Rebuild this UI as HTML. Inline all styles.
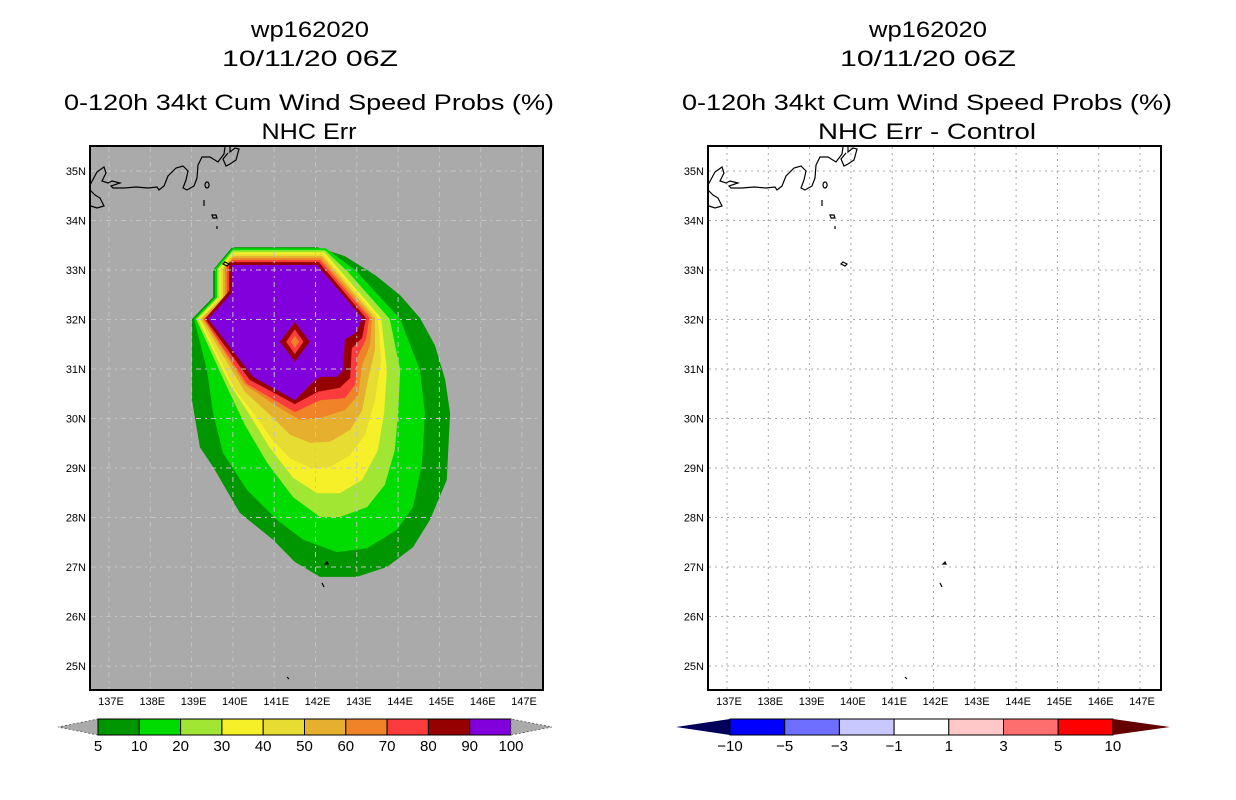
<!DOCTYPE html>
<html><head><meta charset="utf-8"><style>
html,body{margin:0;padding:0;background:#fff;}
svg{display:block;font-family:"Liberation Sans",sans-serif;}
</style></head><body>
<svg id="root" width="1236" height="800" viewBox="0 0 1236 800" xmlns="http://www.w3.org/2000/svg">
<g id="titles" font-size="22" fill="#000" text-anchor="middle">
 <text x="310" y="37" textLength="118" lengthAdjust="spacingAndGlyphs">wp162020</text>
 <text x="310" y="66" textLength="176" lengthAdjust="spacingAndGlyphs">10/11/20 06Z</text>
 <text x="309" y="110" textLength="490" lengthAdjust="spacingAndGlyphs">0-120h 34kt Cum Wind Speed Probs (%)</text>
 <text x="309" y="139" textLength="95" lengthAdjust="spacingAndGlyphs">NHC Err</text>
 <text x="928" y="37" textLength="118" lengthAdjust="spacingAndGlyphs">wp162020</text>
 <text x="928" y="66" textLength="176" lengthAdjust="spacingAndGlyphs">10/11/20 06Z</text>
 <text x="927" y="110" textLength="490" lengthAdjust="spacingAndGlyphs">0-120h 34kt Cum Wind Speed Probs (%)</text>
 <text x="927" y="139" textLength="218" lengthAdjust="spacingAndGlyphs">NHC Err - Control</text>
</g>
<rect x="90" y="146" width="453" height="544" fill="#aaaaaa"/>
<g id="contours"></g>
<g id="leftgrid"></g>
<g id="leftcoast"></g>
<rect x="90" y="146" width="453" height="544" fill="none" stroke="#000" stroke-width="2"/>
<rect x="708" y="146" width="453" height="544" fill="#fff"/>
<g id="rightgrid"></g>
<g id="rightcoast"></g>
<rect x="708" y="146" width="453" height="544" fill="none" stroke="#000" stroke-width="2"/>
<g id="axes" font-size="11"></g>
<g id="cbarL"></g>
<g id="cbarR"></g>
</svg>
<script>
const NS="http://www.w3.org/2000/svg";
const lonTicks=[137,138,139,140,141,142,143,144,145,146,147];
const latTicks=[25,26,27,28,29,30,31,32,33,34,35];
const levels=[5,10,20,30,40,50,60,70,80,90];
const levelColors=["#009600","#00dc00","#a0e632","#f5f028","#e6dc32","#e6af2d","#f08228","#fa3c3c","#960000","#8200dc"];
const c5=[[139.98,33.46],[142.04,33.46],[142.71,33.28],[143.44,32.90],[144.05,32.49],[144.53,32.03],[144.89,31.48],[145.14,30.78],[145.26,30.11],[145.18,28.76],[144.77,27.95],[144.36,27.40],[143.73,27.00],[143.00,26.80],[142.11,26.80],[141.50,27.10],[140.97,27.55],[140.17,28.09],[139.52,29.02],[139.20,29.42],[139.01,30.37],[139.01,32.01],[139.52,32.45],[139.52,33.00]];
const c10=[[140.0,33.44],[142.25,33.44],[142.96,33.00],[144.05,32.01],[144.53,30.98],[144.65,30.11],[144.58,29.10],[144.36,28.21],[143.97,27.75],[143.25,27.38],[142.52,27.30],[141.70,27.55],[141.07,27.95],[140.34,28.56],[139.76,29.30],[139.52,30.11],[139.37,30.98],[139.06,32.01],[139.57,32.45],[139.57,33.02]];
const c20=[[140.0,33.40],[142.23,33.40],[142.79,32.96],[143.80,32.01],[144.05,30.98],[144.00,30.11],[143.92,29.36],[143.68,28.66],[143.25,28.21],[142.59,28.01],[142.11,28.01],[141.46,28.41],[140.83,29.10],[140.29,29.87],[139.83,30.68],[139.11,32.01],[139.62,32.45],[139.62,33.02]];
const c30=[[140.0,33.36],[142.21,33.36],[143.59,32.03],[143.73,30.98],[143.66,30.11],[143.51,29.36],[143.13,28.76],[142.59,28.49],[142.04,28.49],[141.46,28.80],[140.90,29.40],[140.41,30.07],[139.93,30.68],[139.15,32.01],[139.66,32.45],[139.66,33.02]];
const c40=[[140.0,33.32],[142.18,33.32],[143.51,32.03],[143.59,31.18],[143.44,30.37],[143.20,29.67],[142.84,29.26],[142.35,29.02],[141.87,29.00],[141.38,29.20],[140.95,29.57],[140.54,30.07],[140.05,30.58],[139.20,32.01],[139.71,32.45],[139.71,33.02]];
const c50=[[140.0,33.28],[142.16,33.28],[143.44,32.03],[143.44,31.38],[143.27,30.78],[143.13,30.17],[142.84,29.77],[142.35,29.53],[141.87,29.51],[141.38,29.67],[140.90,30.07],[140.29,30.54],[139.23,32.01],[139.76,32.45],[139.76,33.02]];
const c60=[[140.0,33.24],[142.13,33.24],[143.37,32.03],[143.32,31.48],[143.13,31.08],[143.03,30.47],[142.71,30.17],[142.11,30.01],[141.62,29.97],[141.02,30.27],[140.29,30.68],[139.28,32.01],[139.81,32.45],[139.81,33.04]];
const c70=[[140.0,33.20],[142.11,33.20],[143.30,32.03],[143.22,31.59],[143.03,31.28],[142.96,30.68],[142.71,30.41],[142.11,30.37],[141.50,30.13],[140.34,30.70],[139.30,32.01],[139.86,32.50],[139.86,33.06]];
const c80=[[139.91,33.16],[142.08,33.16],[143.22,32.03],[143.13,31.63],[142.88,31.42],[142.84,30.82],[142.59,30.62],[142.06,30.54],[141.50,30.29],[140.41,30.78],[139.33,32.01],[139.91,32.58]];
const c90=[[139.98,33.10],[142.04,33.10],[143.13,32.03],[143.00,31.75],[142.71,31.59],[142.67,30.98],[142.52,30.84],[142.11,30.84],[141.94,30.74],[141.50,30.37],[140.49,30.84],[139.40,32.01],[139.98,32.54]];
const contourSet=[c5,c10,c20,c30,c40,c50,c60,c70,c80,c90];
// interior local minimum (diamond) centre and half-widths per level [lon,lat,dLon,dLat]
const dipCenter=[141.50,31.55];
const dipLevels=[80,70,60];
const dipHalfLon=[0.36,0.21,0.10];
const dipHalfLat=[0.40,0.25,0.12];
const leftBarLabels=["5","10","20","30","40","50","60","70","80","90","100"];
const rightBarLabels=["-10","-5","-3","-1","1","3","5","10"];
const rightBarColors=["#0000ff","#6e6eff","#c8c8ff","#ffffff","#ffc8c8","#ff6e6e","#ff0000"];

const X0L=109, X0R=727, PXLON=41.3, Y35=171, PXLAT=49.5;
function xL(lon){return X0L+(lon-137)*PXLON;}
function xR(lon){return X0R+(lon-137)*PXLON;}
function yM(lat){return Y35+(35-lat)*PXLAT;}
function mk(tag,attrs,parent){const e=document.createElementNS(NS,tag);for(const k in attrs)e.setAttribute(k,attrs[k]);parent.appendChild(e);return e;}

// contours
const cg=document.getElementById('contours');
contourSet.forEach((poly,i)=>{
  const p=mk('polygon',{points:poly.map(q=>xL(q[0]).toFixed(1)+','+yM(q[1]).toFixed(1)).join(' '),fill:levelColors[i]},cg);
  
  
});
dipLevels.forEach((lv,i)=>{
  const cx=xL(dipCenter[0]),cy=yM(dipCenter[1]),dx=dipHalfLon[i]*PXLON,dy=dipHalfLat[i]*PXLAT;
  const col=levelColors[levels.indexOf(lv)];
  const p=mk('polygon',{points:`${cx},${cy-dy} ${cx+dx},${cy} ${cx},${cy+dy} ${cx-dx},${cy}`,fill:col},cg);
  
  
});

// grids
function grid(gid,xf,col,dash){
  const g=document.getElementById(gid);
  lonTicks.forEach(lo=>{const l=mk('line',{x1:xf(lo),x2:xf(lo),y1:147,y2:689,stroke:col,'stroke-width':1,'stroke-dasharray':dash},g);
    });
  latTicks.forEach(la=>{const l=mk('line',{x1:xf(137)-18,x2:xf(147)+17,y1:yM(la),y2:yM(la),stroke:col,'stroke-width':1,'stroke-dasharray':dash},g);
    });
}
grid('leftgrid',xL,'#c4c4c4','5,4,2,4');
grid('rightgrid',xR,'#a8a8a8','2,4');

// coastline (map geography, pixel outline relative to left map)
const coastD="M90,185 L97,172 L104,167 L106,173 L102,181 L108,183 L112,181 L120,183 L111,186 L113,188 L124,188 L136,187 L148,188 L157,187 L159,190 L164,186 L168,176 L176,168 L183,166 L188,171 L186,180 L183,188 L187,190 L194,186 L197,178 L198,165 L202,157 L210,157 L218,162 L224,154 L225,147 M230,147 L230,152 L235,148 L239,149 L236,160 L230,164 L226,166 L223,159 L228,153 M90,190 L95,195 L100,198 L104,206 L97,208 L91,206 M207,182 a2,3 0 1,0 0.1,0 M204,200 l0,6 M212,215 l4,0 l1,3 l-4,0 z M217,226 l0,3 M225,262 l4,2 l-2,2 l-4,-2 z M325,564 l2,-2 l1,2 z M322,583 l2,4 M287,677 l2,2";
function coast(gid,dx){const g=document.getElementById(gid);
  const p=mk('path',{d:coastD,fill:'none',stroke:'#000','stroke-width':1.2,transform:`translate(${dx},0)`},g);
  }
coast('leftcoast',0);coast('rightcoast',618);

// axis labels
const ax=document.getElementById('axes');
[[xL,0],[xR,618]].forEach(([xf,dx])=>{
  lonTicks.forEach(lo=>{const t=mk('text',{x:xf(lo)+2,y:705,'text-anchor':'middle'},ax);t.textContent=lo+'E';
    });
  latTicks.forEach(la=>{const t=mk('text',{x:86+dx,y:yM(la)+4,'text-anchor':'end'},ax);t.textContent=la+'N';
    });
});

// left colorbar
const cl=document.getElementById('cbarL');
const bx0=98,bw=41.3,by=719,bh=16;
let tri=mk('polygon',{points:`${bx0},${by} ${bx0},${by+bh} 58,${by+bh/2}`,fill:'#aaaaaa',stroke:'#555','stroke-width':0.8,'stroke-dasharray':'2,2'},cl);

levelColors.forEach((c,i)=>{const r=mk('rect',{x:bx0+i*bw,y:by,width:bw,height:bh,fill:c,stroke:'#000','stroke-width':1},cl);
  });
const bx1=bx0+levels.length*bw;
tri=mk('polygon',{points:`${bx1},${by} ${bx1},${by+bh} 552,${by+bh/2}`,fill:'#aaaaaa',stroke:'#555','stroke-width':0.8,'stroke-dasharray':'2,2'},cl);

leftBarLabels.forEach((s,i)=>{const t=mk('text',{x:bx0+i*bw,y:751,'text-anchor':'middle','font-size':15},cl);t.textContent=s;
  });

// right colorbar
const cr=document.getElementById('cbarR');
const rx0=730,rw=54.7;
tri=mk('polygon',{points:`${rx0},${by} ${rx0},${by+bh} 676,${by+bh/2}`,fill:'#00005a'},cr);

rightBarColors.forEach((c,i)=>{const r=mk('rect',{x:rx0+i*rw,y:by,width:rw,height:bh,fill:c,stroke:'#000','stroke-width':1},cr);
  });
const rx1=rx0+rightBarColors.length*rw;
tri=mk('polygon',{points:`${rx1},${by} ${rx1},${by+bh} 1170,${by+bh/2}`,fill:'#640000'},cr);

rightBarLabels.forEach((s,i)=>{const t=mk('text',{x:rx0+i*rw,y:751,'text-anchor':'middle','font-size':15},cr);t.textContent=s.replace('-','\u2212');
  });
</script>
</body></html>
